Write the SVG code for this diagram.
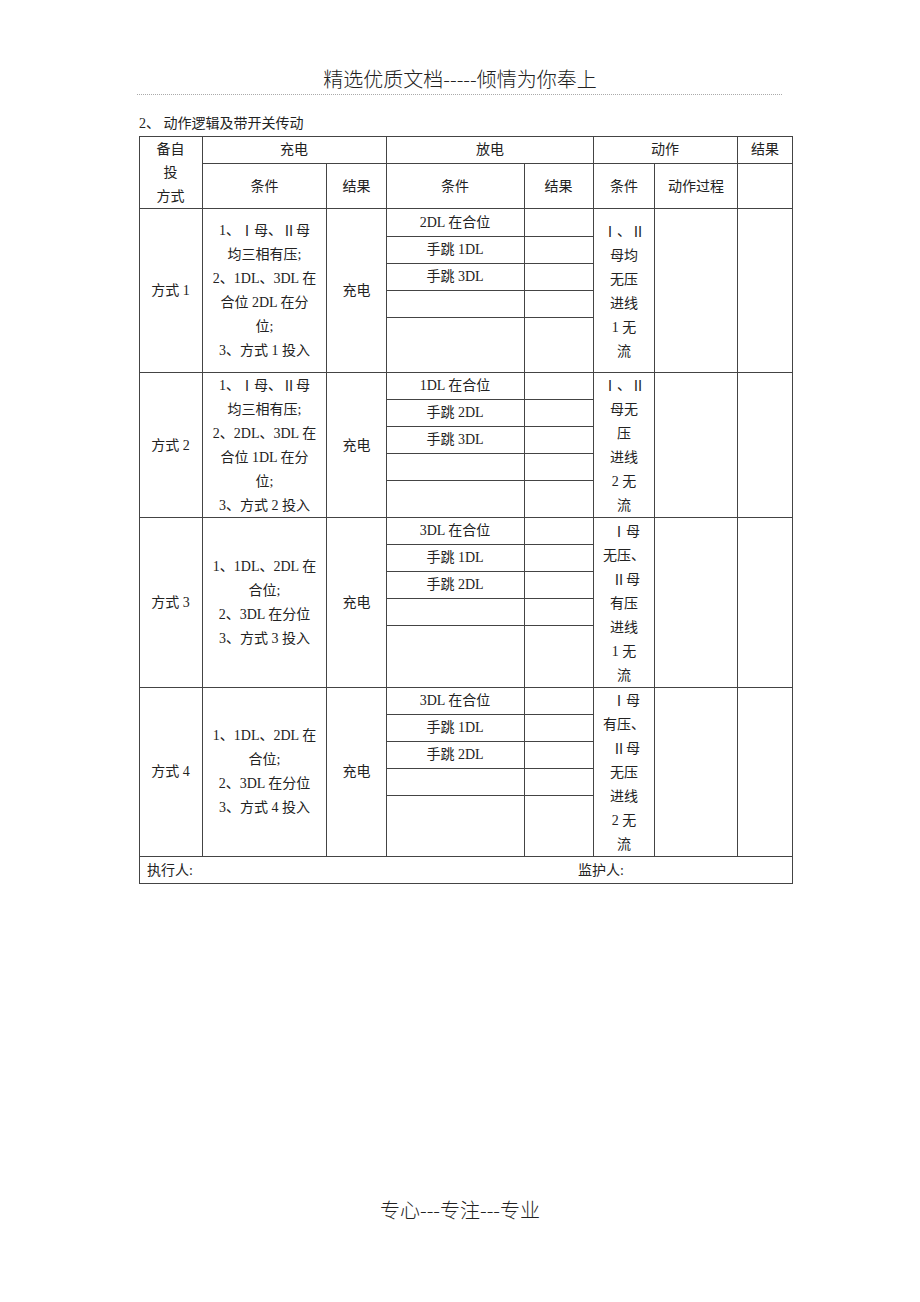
<svg xmlns="http://www.w3.org/2000/svg" width="920" height="1302" viewBox="0 0 920 1302">
<style>
  .t{font-family:"Liberation Serif","Noto Sans CJK SC",serif;font-size:14px;fill:#222;text-anchor:middle;dominant-baseline:central}
  .l{text-anchor:start}
  .r{font-family:"Noto Sans CJK SC",sans-serif;font-feature-settings:"fwid" 1}
  .g{stroke:#444;stroke-width:1;fill:none}
  .h{font-family:"Noto Sans CJK SC",sans-serif;font-size:20px;font-weight:300;fill:#222;text-anchor:middle;dominant-baseline:central}
</style>
<rect width="920" height="1302" fill="#fff"/>
<g id="page-header">
  <text class="h" x="460" y="78">精选优质文档-----倾情为你奉上</text>
  <line x1="137" y1="94.5" x2="783" y2="94.5" stroke="#aaa" stroke-width="1.2" stroke-dasharray="1 1"/>
</g>
<g id="section-title">
  <text class="t l" x="139" y="123">2、 动作逻辑及带开关传动</text>
</g>
<g id="grid">
  <rect class="g" x="139.5" y="136.5" width="653" height="747"/>
  <line class="g" x1="202" y1="163.5" x2="793" y2="163.5"/>
  <line class="g" x1="139" y1="208.5" x2="793" y2="208.5"/>
  <line class="g" x1="139" y1="372.5" x2="793" y2="372.5"/>
  <line class="g" x1="139" y1="517.5" x2="793" y2="517.5"/>
  <line class="g" x1="139" y1="687.5" x2="793" y2="687.5"/>
  <line class="g" x1="139" y1="856.5" x2="793" y2="856.5"/>
  <line class="g" x1="202.5" y1="136" x2="202.5" y2="856"/>
  <line class="g" x1="326.5" y1="163" x2="326.5" y2="856"/>
  <line class="g" x1="386.5" y1="136" x2="386.5" y2="856"/>
  <line class="g" x1="524.5" y1="163" x2="524.5" y2="856"/>
  <line class="g" x1="593.5" y1="136" x2="593.5" y2="856"/>
  <line class="g" x1="654.5" y1="163" x2="654.5" y2="856"/>
  <line class="g" x1="737.5" y1="136" x2="737.5" y2="856"/>
  <line class="g" x1="386" y1="236.5" x2="593" y2="236.5"/>
  <line class="g" x1="386" y1="263.5" x2="593" y2="263.5"/>
  <line class="g" x1="386" y1="290.5" x2="593" y2="290.5"/>
  <line class="g" x1="386" y1="317.5" x2="593" y2="317.5"/>
  <line class="g" x1="386" y1="399.5" x2="593" y2="399.5"/>
  <line class="g" x1="386" y1="426.5" x2="593" y2="426.5"/>
  <line class="g" x1="386" y1="453.5" x2="593" y2="453.5"/>
  <line class="g" x1="386" y1="480.5" x2="593" y2="480.5"/>
  <line class="g" x1="386" y1="544.5" x2="593" y2="544.5"/>
  <line class="g" x1="386" y1="571.5" x2="593" y2="571.5"/>
  <line class="g" x1="386" y1="598.5" x2="593" y2="598.5"/>
  <line class="g" x1="386" y1="625.5" x2="593" y2="625.5"/>
  <line class="g" x1="386" y1="714.5" x2="593" y2="714.5"/>
  <line class="g" x1="386" y1="741.5" x2="593" y2="741.5"/>
  <line class="g" x1="386" y1="768.5" x2="593" y2="768.5"/>
  <line class="g" x1="386" y1="795.5" x2="593" y2="795.5"/>
</g>
<g id="header">
  <text class="t" x="170.5" y="149">备自</text>
  <text class="t" x="170.5" y="172">投</text>
  <text class="t" x="170.5" y="196">方式</text>
  <text class="t" x="294" y="149.5">充电</text>
  <text class="t" x="490" y="149.5">放电</text>
  <text class="t" x="665" y="149.5">动作</text>
  <text class="t" x="765" y="149.5">结果</text>
  <text class="t" x="264.5" y="186">条件</text>
  <text class="t" x="356.5" y="186">结果</text>
  <text class="t" x="455" y="186">条件</text>
  <text class="t" x="558.5" y="186">结果</text>
  <text class="t" x="624" y="186">条件</text>
  <text class="t" x="696" y="186">动作过程</text>
</g>
<g id="mode1">
  <text class="t" x="170.5" y="290">方式 1</text>
  <text class="t" x="264.5" y="230">1、<tspan class="r">Ⅰ</tspan>母、<tspan class="r">Ⅱ</tspan>母</text>
  <text class="t" x="264.5" y="254">均三相有压;</text>
  <text class="t" x="264.5" y="278">2、1DL、3DL 在</text>
  <text class="t" x="264.5" y="302">合位 2DL 在分</text>
  <text class="t" x="264.5" y="326">位;</text>
  <text class="t" x="264.5" y="350">3、方式 1 投入</text>
  <text class="t" x="356.5" y="290">充电</text>
  <text class="t" x="455" y="222.5">2DL 在合位</text>
  <text class="t" x="455" y="249.5">手跳 1DL</text>
  <text class="t" x="455" y="276.5">手跳 3DL</text>
  <text class="t" x="624" y="231"><tspan class="r">Ⅰ</tspan>、<tspan class="r">Ⅱ</tspan></text>
  <text class="t" x="624" y="255">母均</text>
  <text class="t" x="624" y="279">无压</text>
  <text class="t" x="624" y="303">进线</text>
  <text class="t" x="624" y="327">1 无</text>
  <text class="t" x="624" y="351">流</text>
</g>
<g id="mode2">
  <text class="t" x="170.5" y="445">方式 2</text>
  <text class="t" x="264.5" y="385">1、<tspan class="r">Ⅰ</tspan>母、<tspan class="r">Ⅱ</tspan>母</text>
  <text class="t" x="264.5" y="409">均三相有压;</text>
  <text class="t" x="264.5" y="433">2、2DL、3DL 在</text>
  <text class="t" x="264.5" y="457">合位 1DL 在分</text>
  <text class="t" x="264.5" y="481">位;</text>
  <text class="t" x="264.5" y="505">3、方式 2 投入</text>
  <text class="t" x="356.5" y="445">充电</text>
  <text class="t" x="455" y="385.5">1DL 在合位</text>
  <text class="t" x="455" y="412.5">手跳 2DL</text>
  <text class="t" x="455" y="439.5">手跳 3DL</text>
  <text class="t" x="624" y="385"><tspan class="r">Ⅰ</tspan>、<tspan class="r">Ⅱ</tspan></text>
  <text class="t" x="624" y="409">母无</text>
  <text class="t" x="624" y="433">压</text>
  <text class="t" x="624" y="457">进线</text>
  <text class="t" x="624" y="481">2 无</text>
  <text class="t" x="624" y="505">流</text>
</g>
<g id="mode3">
  <text class="t" x="170.5" y="602">方式 3</text>
  <text class="t" x="264.5" y="566">1、1DL、2DL 在</text>
  <text class="t" x="264.5" y="590">合位;</text>
  <text class="t" x="264.5" y="614">2、3DL 在分位</text>
  <text class="t" x="264.5" y="638">3、方式 3 投入</text>
  <text class="t" x="356.5" y="602">充电</text>
  <text class="t" x="455" y="530.5">3DL 在合位</text>
  <text class="t" x="455" y="557.5">手跳 1DL</text>
  <text class="t" x="455" y="584.5">手跳 2DL</text>
  <text class="t" x="626" y="531"><tspan class="r">Ⅰ</tspan>母</text>
  <text class="t" x="624" y="555">无压、</text>
  <text class="t" x="626" y="579"><tspan class="r">Ⅱ</tspan>母</text>
  <text class="t" x="624" y="603">有压</text>
  <text class="t" x="624" y="627">进线</text>
  <text class="t" x="624" y="651">1 无</text>
  <text class="t" x="624" y="675">流</text>
</g>
<g id="mode4">
  <text class="t" x="170.5" y="771">方式 4</text>
  <text class="t" x="264.5" y="735">1、1DL、2DL 在</text>
  <text class="t" x="264.5" y="759">合位;</text>
  <text class="t" x="264.5" y="783">2、3DL 在分位</text>
  <text class="t" x="264.5" y="807">3、方式 4 投入</text>
  <text class="t" x="356.5" y="771">充电</text>
  <text class="t" x="455" y="700.5">3DL 在合位</text>
  <text class="t" x="455" y="727.5">手跳 1DL</text>
  <text class="t" x="455" y="754.5">手跳 2DL</text>
  <text class="t" x="626" y="700"><tspan class="r">Ⅰ</tspan>母</text>
  <text class="t" x="624" y="724">有压、</text>
  <text class="t" x="626" y="748"><tspan class="r">Ⅱ</tspan>母</text>
  <text class="t" x="624" y="772">无压</text>
  <text class="t" x="624" y="796">进线</text>
  <text class="t" x="624" y="820">2 无</text>
  <text class="t" x="624" y="844">流</text>
</g>
<g id="signature">
  <text class="t l" x="147" y="870">执行人:</text>
  <text class="t l" x="578" y="870">监护人:</text>
</g>
<g id="page-footer">
  <text class="h" x="460" y="1209">专心---专注---专业</text>
</g>
</svg>
